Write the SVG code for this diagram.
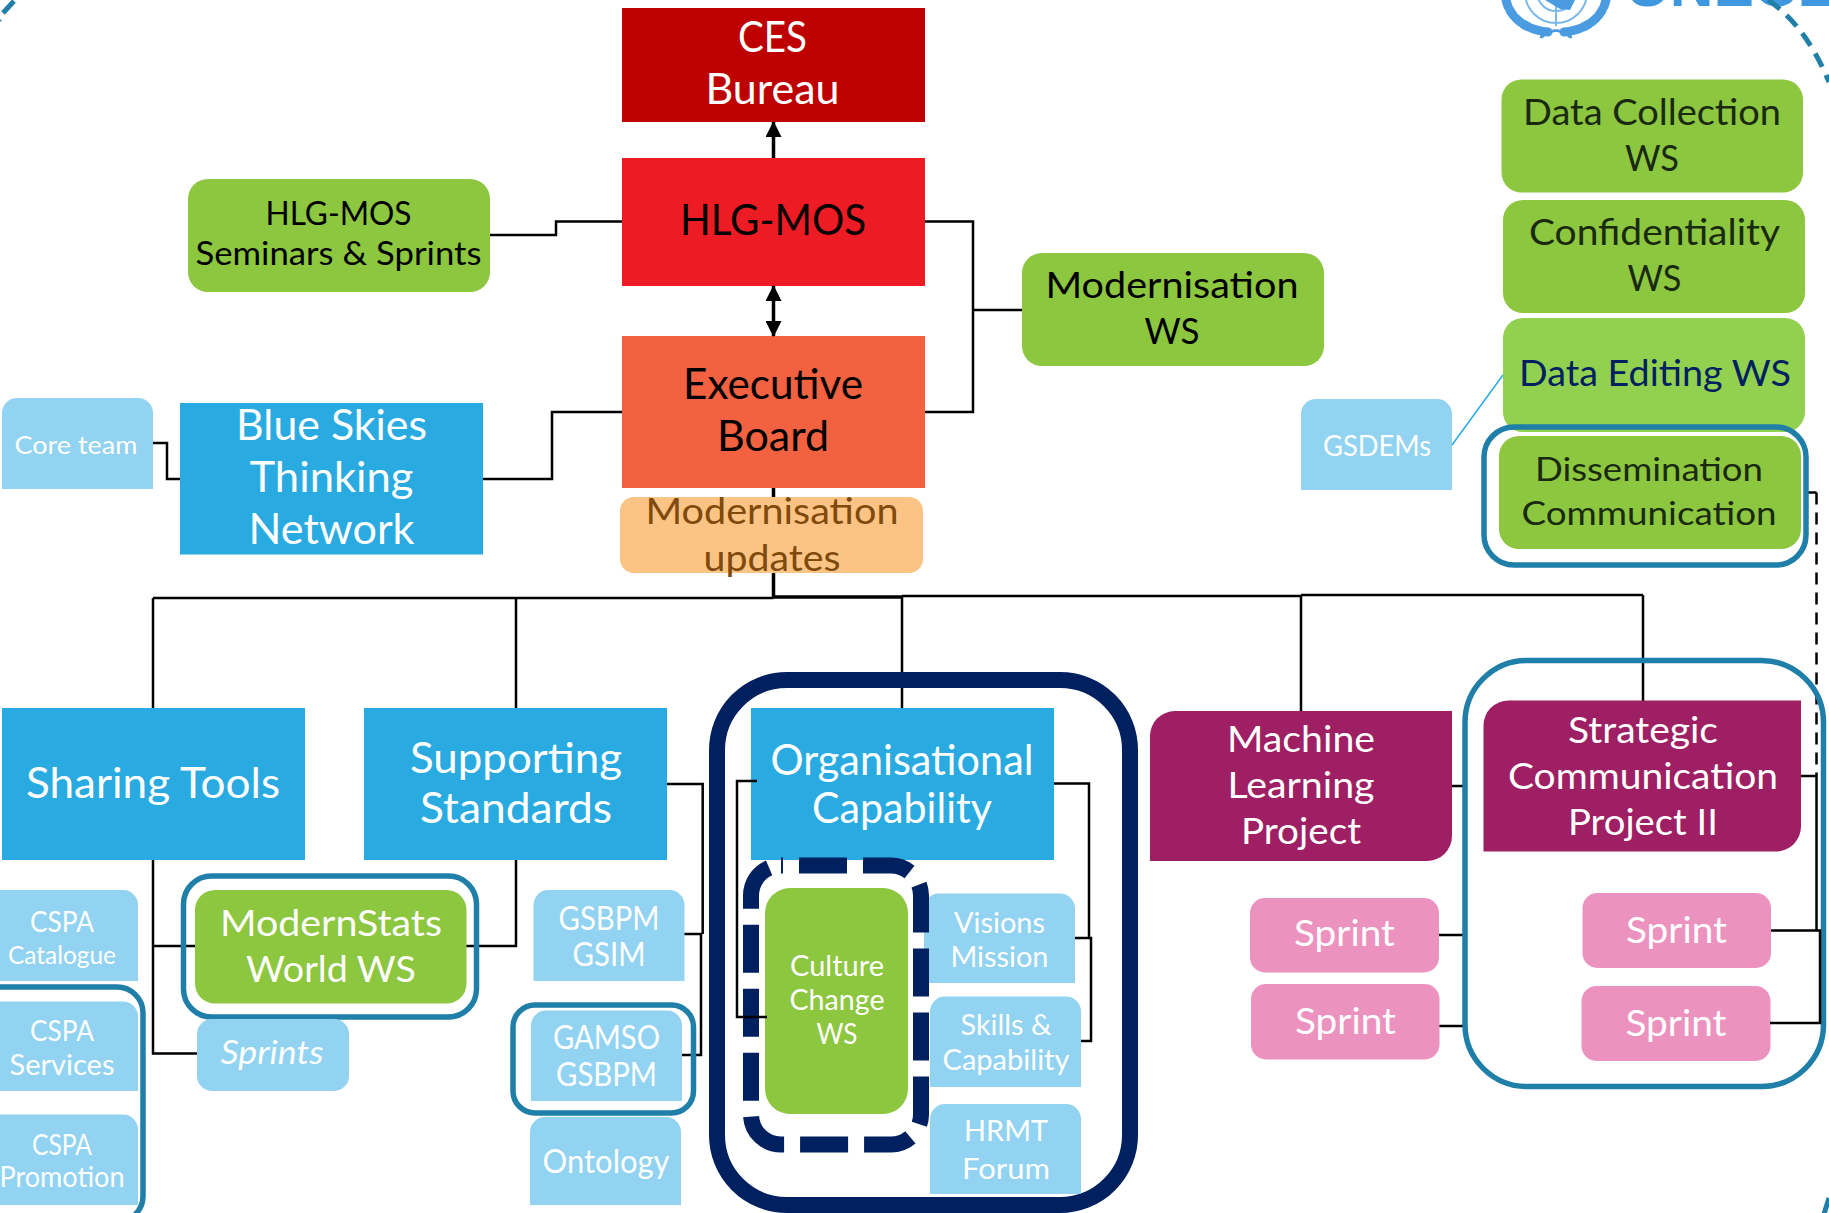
<svg xmlns="http://www.w3.org/2000/svg" width="1829" height="1213" viewBox="0 0 1829 1213">
<style>
text{font-family:Lato,"Liberation Sans",sans-serif;text-anchor:middle;dominant-baseline:central;transform:translateY(-1.5px)}
.w{fill:#fff}.k{fill:#000}.kd{fill:#1a2a10}
.s44{font-size:43px}.s38{font-size:37.500px}.s32{font-size:32px}.s28{font-size:28px}.s25{font-size:25px}
.green{fill:#8DC63F}.lb{fill:#91D3F1}.blue{fill:#29ABE2}.pink{fill:#EC92BF}.plum{fill:#9E1F63}
.frame{fill:none;stroke:#1F7FA8;stroke-width:5.500}
.navy{fill:none;stroke:#002060;stroke-width:16}
.c{fill:none;stroke:#000;stroke-width:2.500}
.c3{fill:none;stroke:#000;stroke-width:3.500}
</style>
<defs>
<marker id="ah" markerUnits="userSpaceOnUse" markerWidth="16" markerHeight="16" refX="15" refY="8" orient="auto-start-reverse"><path d="M0 0L16 8L0 16z" fill="#000"/></marker>
</defs>
<g id="logo">
<g fill="none" stroke="#7DB8EC" stroke-width="2"><circle cx="1556" cy="-8" r="31"/><circle cx="1556" cy="-8" r="19"/><path d="M1556 -8V26"/></g>
<path d="M1545 0H1575L1570 10L1560 9z" fill="#4A9BE0"/>
<g fill="none" stroke="#4A9BE0" stroke-linecap="round">
<path stroke-width="9" stroke-dasharray="7 3" d="M1506 0C1510 18 1526 30 1548 32"/>
<path stroke-width="9" stroke-dasharray="7 3" d="M1606 0C1602 18 1586 30 1564 32"/>
<path stroke-width="2.500" d="M1541 37C1547 30 1558 27 1570 37M1571 37C1565 30 1554 27 1542 37"/>
</g>
<text x="1732" y="6" font-size="58" font-weight="700" fill="#3E97DF" style="dominant-baseline:alphabetic;transform:none;font-family:'Liberation Sans',sans-serif" textLength="212" lengthAdjust="spacingAndGlyphs">UNECE</text>
</g>
<g id="corners" fill="none" stroke="#1F7FA8" stroke-width="5">
<path d="M14 1L3 13"/><path d="M0 19L-1 20"/><path stroke-dasharray="15 9" d="M1768 0C1795 18 1815 48 1829 82"/>
<path d="M1829 1198L1824 1214"/>
</g>
<g id="connectors-under">
<path class="c3" d="M773.500 488V597H902"/>
<path class="c" d="M153 598H773.500M902 596H1301M1301 595H1643"/>
<path class="c" d="M153 598V708M516 598V708M902 596V708M1301 595V711M1643 595V701"/>
<path class="c" d="M153 860V1053.500H197M153 946H195M466 946H516V860"/>
<path class="c" d="M667 784H702.700V934M684 934H701V1055H682"/>
<path class="c" d="M153 443H167V479H180M483 479H552V412H622M490 235H556V221.500H622M925 221.500H973V412H925M973 310H1022"/>
<path class="c" d="M1452 786H1466M1439 935H1466M1439 1026H1466"/>
<path class="c" d="M1806 492.500H1816.500" />
<path class="c" stroke-dasharray="12 8" d="M1816.500 492.500V775"/>
</g>
<g id="groups">
<rect class="navy" x="717" y="680" width="413" height="525" rx="70"/>
<rect class="frame" x="1465" y="660.500" width="358.500" height="426" rx="62"/>
</g>
<g id="ces"><rect x="622" y="8" width="303" height="114" fill="#BE0000"/><text class="w s44" x="772.500" y="37" textLength="69" lengthAdjust="spacingAndGlyphs">CES</text><text class="w s44" x="772.500" y="89" textLength="134" lengthAdjust="spacingAndGlyphs">Bureau</text></g>
<g id="hlg"><rect x="622" y="158" width="303" height="128" fill="#ED1C24"/><text class="k s44" x="773" y="220" textLength="186" lengthAdjust="spacingAndGlyphs">HLG-MOS</text></g>
<g id="exec"><rect x="622" y="336" width="303" height="152" fill="#F26140"/><text class="k s44" x="773" y="384" textLength="180" lengthAdjust="spacingAndGlyphs">Executive</text><text class="k s44" x="773" y="436" textLength="112" lengthAdjust="spacingAndGlyphs">Board</text></g>
<g id="updates"><rect x="620" y="497" width="303" height="76" rx="14" fill="#FBC484"/><text class="s38" fill="#7F4A0C" x="772" y="511" textLength="253" lengthAdjust="spacingAndGlyphs">Modernisation</text><text class="s38" fill="#7F4A0C" x="772" y="558" textLength="137" lengthAdjust="spacingAndGlyphs">updates</text></g>
<g id="seminars"><rect class="green" x="188" y="179" width="302" height="113" rx="20"/><text class="k s32" x="338.500" y="214" textLength="146" lengthAdjust="spacingAndGlyphs">HLG-MOS</text><text class="k s32" x="338.500" y="254" textLength="286" lengthAdjust="spacingAndGlyphs">Seminars &amp; Sprints</text></g>
<g id="modws"><rect class="green" x="1022" y="253" width="302" height="113" rx="20"/><text class="k s38" x="1172" y="285" textLength="253" lengthAdjust="spacingAndGlyphs">Modernisation</text><text class="k s38" x="1172" y="331" textLength="55" lengthAdjust="spacingAndGlyphs">WS</text></g>
<g id="datacoll"><rect class="green" x="1501.500" y="79.500" width="301.500" height="113" rx="20"/><text class="kd s38" x="1652" y="112" textLength="258" lengthAdjust="spacingAndGlyphs">Data Collection</text><text class="kd s38" x="1652" y="158" textLength="54" lengthAdjust="spacingAndGlyphs">WS</text></g>
<g id="confid"><rect class="green" x="1503" y="200" width="302" height="113" rx="20"/><text class="kd s38" x="1654.500" y="231.500" textLength="251" lengthAdjust="spacingAndGlyphs">Confidentiality</text><text class="kd s38" x="1654.500" y="278" textLength="54" lengthAdjust="spacingAndGlyphs">WS</text></g>
<g id="editing"><rect x="1503" y="318" width="302" height="114" rx="20" fill="#91D14F"/><text class="s38" fill="#002060" x="1655" y="373" textLength="272" lengthAdjust="spacingAndGlyphs">Data Editing WS</text></g>
<g id="gsdems"><path class="lb" d="M1301 490V414a15 15 0 0 1 15-15H1437a15 15 0 0 1 15 15V490z"/><text class="w s28" x="1377" y="446" textLength="108" lengthAdjust="spacingAndGlyphs">GSDEMs</text></g>
<path d="M1452 445L1503 375" fill="none" stroke="#29ABE2" stroke-width="1.500"/>
<g id="dissem"><rect class="green" x="1499" y="436" width="302" height="113" rx="20"/><rect class="frame" x="1484" y="427" width="322" height="138" rx="30"/><text class="kd s32" x="1649" y="470" textLength="228" lengthAdjust="spacingAndGlyphs">Dissemination</text><text class="kd s32" x="1649" y="514" textLength="255" lengthAdjust="spacingAndGlyphs">Communication</text></g>
<g id="core"><path class="lb" d="M2 489V413a15 15 0 0 1 15-15H138a15 15 0 0 1 15 15V489z"/><text class="w s25" x="76" y="445" textLength="123" lengthAdjust="spacingAndGlyphs">Core team</text></g>
<g id="blueskies"><rect class="blue" x="180" y="403" width="303" height="151.500"/><text class="w s44" x="331.500" y="425" textLength="191" lengthAdjust="spacingAndGlyphs">Blue Skies</text><text class="w s44" x="331.500" y="477" textLength="164" lengthAdjust="spacingAndGlyphs">Thinking</text><text class="w s44" x="331.500" y="529" textLength="166" lengthAdjust="spacingAndGlyphs">Network</text></g>
<g id="sharing"><rect class="blue" x="2" y="708" width="303" height="152"/><text class="w s44" x="153" y="782.500" textLength="254" lengthAdjust="spacingAndGlyphs">Sharing Tools</text></g>
<g id="supporting"><rect class="blue" x="364" y="708" width="303" height="152"/><text class="w s44" x="516" y="758" textLength="212" lengthAdjust="spacingAndGlyphs">Supporting</text><text class="w s44" x="516" y="808" textLength="192" lengthAdjust="spacingAndGlyphs">Standards</text></g>
<g id="orgcap"><rect class="blue" x="751" y="708" width="303" height="152"/><text class="w s44" x="902" y="759.500" textLength="263" lengthAdjust="spacingAndGlyphs">Organisational</text><text class="w s44" x="902" y="808" textLength="180" lengthAdjust="spacingAndGlyphs">Capability</text></g>
<g id="modernstats"><rect class="green" x="195" y="890" width="271.500" height="113.500" rx="20"/><rect class="frame" x="183.500" y="876" width="293" height="141" rx="28"/><text class="w s38" x="331" y="923" textLength="222" lengthAdjust="spacingAndGlyphs">ModernStats</text><text class="w s38" x="331" y="969" textLength="170" lengthAdjust="spacingAndGlyphs">World WS</text></g>
<g id="sprints"><rect class="lb" x="197" y="1019" width="152" height="72" rx="15"/><text class="w s32" font-style="italic" x="272" y="1053" textLength="103" lengthAdjust="spacingAndGlyphs">Sprints</text></g>
<g id="catalogue"><path class="lb" d="M-2 981V890H123a15 15 0 0 1 15 15V981z"/><text class="w s28" x="62" y="922.500" textLength="64" lengthAdjust="spacingAndGlyphs">CSPA</text><text class="w s25" x="62" y="955" textLength="108" lengthAdjust="spacingAndGlyphs">Catalogue</text></g>
<g id="services"><path class="lb" d="M-2 1091V1001.500H123a15 15 0 0 1 15 15V1091z"/><text class="w s28" x="62" y="1031" textLength="64" lengthAdjust="spacingAndGlyphs">CSPA</text><text class="w s28" x="62" y="1065" textLength="105" lengthAdjust="spacingAndGlyphs">Services</text></g>
<g id="promotion"><path class="lb" d="M-2 1205V1114.500H123a15 15 0 0 1 15 15V1205z"/><text class="w s28" x="62" y="1145" textLength="60" lengthAdjust="spacingAndGlyphs">CSPA</text><text class="w s28" x="62" y="1177" textLength="125" lengthAdjust="spacingAndGlyphs">Promotion</text></g>
<rect class="frame" x="-30" y="987" width="173" height="235" rx="26"/>
<g id="gsbpm"><path class="lb" d="M533.500 981V905a15 15 0 0 1 15-15H669.500a15 15 0 0 1 15 15V981z"/><text class="w s32" x="609" y="918.500" textLength="101" lengthAdjust="spacingAndGlyphs">GSBPM</text><text class="w s32" x="609" y="955" textLength="73" lengthAdjust="spacingAndGlyphs">GSIM</text></g>
<g id="gamso"><path class="lb" d="M531 1101V1025.500a15 15 0 0 1 15-15H667a15 15 0 0 1 15 15V1101z"/><rect class="frame" x="513" y="1005" width="180.500" height="108" rx="22"/><text class="w s32" x="606.500" y="1038" textLength="107" lengthAdjust="spacingAndGlyphs">GAMSO</text><text class="w s32" x="606.500" y="1075" textLength="101" lengthAdjust="spacingAndGlyphs">GSBPM</text></g>
<g id="ontology"><path class="lb" d="M530 1205V1132a15 15 0 0 1 15-15H666a15 15 0 0 1 15 15V1205z"/><text class="w s32" x="606" y="1162" textLength="127" lengthAdjust="spacingAndGlyphs">Ontology</text></g>
<g id="visions"><path class="lb" d="M924 983V908.500a15 15 0 0 1 15-15H1060a15 15 0 0 1 15 15V983z"/><text class="w s28" x="999.500" y="923" textLength="91" lengthAdjust="spacingAndGlyphs">Visions</text><text class="w s28" x="999.500" y="957" textLength="98" lengthAdjust="spacingAndGlyphs">Mission</text></g>
<g id="skills"><path class="lb" d="M930 1087V1011.500a15 15 0 0 1 15-15H1066a15 15 0 0 1 15 15V1087z"/><text class="w s28" x="1006" y="1025.500" textLength="91" lengthAdjust="spacingAndGlyphs">Skills &amp;</text><text class="w s28" x="1006" y="1060" textLength="127" lengthAdjust="spacingAndGlyphs">Capability</text></g>
<g id="hrmt"><path class="lb" d="M930 1194V1119a15 15 0 0 1 15-15H1066a15 15 0 0 1 15 15V1194z"/><text class="w s28" x="1006" y="1131" textLength="84" lengthAdjust="spacingAndGlyphs">HRMT</text><text class="w s28" x="1006" y="1169.500" textLength="88" lengthAdjust="spacingAndGlyphs">Forum</text></g>
<rect class="navy" x="751" y="865.500" width="170" height="279" rx="30" stroke-dasharray="48 16" stroke-dashoffset="46"/>
<g id="culture"><rect class="green" x="765" y="888" width="143" height="226" rx="25"/><text class="w s28" x="837" y="966" textLength="94" lengthAdjust="spacingAndGlyphs">Culture</text><text class="w s28" x="837" y="1000" textLength="95" lengthAdjust="spacingAndGlyphs">Change</text><text class="w s28" x="837" y="1034" textLength="41" lengthAdjust="spacingAndGlyphs">WS</text></g>
<g id="ml"><path class="plum" d="M1150 861V736a25 25 0 0 1 25-25H1452V836a25 25 0 0 1-25 25z"/><text class="w s38" x="1301" y="739" textLength="148" lengthAdjust="spacingAndGlyphs">Machine</text><text class="w s38" x="1301" y="785" textLength="147" lengthAdjust="spacingAndGlyphs">Learning</text><text class="w s38" x="1301" y="831" textLength="120" lengthAdjust="spacingAndGlyphs">Project</text></g>
<g id="sc"><path class="plum" d="M1483.500 851.500V725.500a25 25 0 0 1 25-25H1801V826.500a25 25 0 0 1-25 25z"/><text class="w s38" x="1643" y="730" textLength="150" lengthAdjust="spacingAndGlyphs">Strategic</text><text class="w s38" x="1643" y="776" textLength="270" lengthAdjust="spacingAndGlyphs">Communication</text><text class="w s38" x="1643" y="822" textLength="150" lengthAdjust="spacingAndGlyphs">Project II</text></g>
<g id="sprint1"><rect class="pink" x="1250" y="898" width="189" height="74.500" rx="15"/><text class="w s38" x="1344.500" y="933" textLength="101" lengthAdjust="spacingAndGlyphs">Sprint</text></g>
<g id="sprint2"><rect class="pink" x="1251" y="984" width="188.500" height="75.500" rx="15"/><text class="w s38" x="1345.500" y="1021" textLength="101" lengthAdjust="spacingAndGlyphs">Sprint</text></g>
<g id="sprint3"><rect class="pink" x="1582.500" y="893" width="188.500" height="75" rx="15"/><text class="w s38" x="1676.500" y="930" textLength="101" lengthAdjust="spacingAndGlyphs">Sprint</text></g>
<g id="sprint4"><rect class="pink" x="1581.500" y="986" width="189" height="75" rx="15"/><text class="w s38" x="1676" y="1023" textLength="101" lengthAdjust="spacingAndGlyphs">Sprint</text></g>
<g id="connectors">
<path class="c3" marker-end="url(#ah)" d="M773.500 158V122"/>
<path class="c3" marker-start="url(#ah)" marker-end="url(#ah)" d="M773.500 286V336"/>
<path class="c" d="M757 781H737V1017H767M1054 783.500H1089V938M1075 938H1091V1041H1081"/>
<path class="c" d="M1801 776H1816.500V930M1771 930.500H1820V1023H1770"/>
</g>
</svg>
